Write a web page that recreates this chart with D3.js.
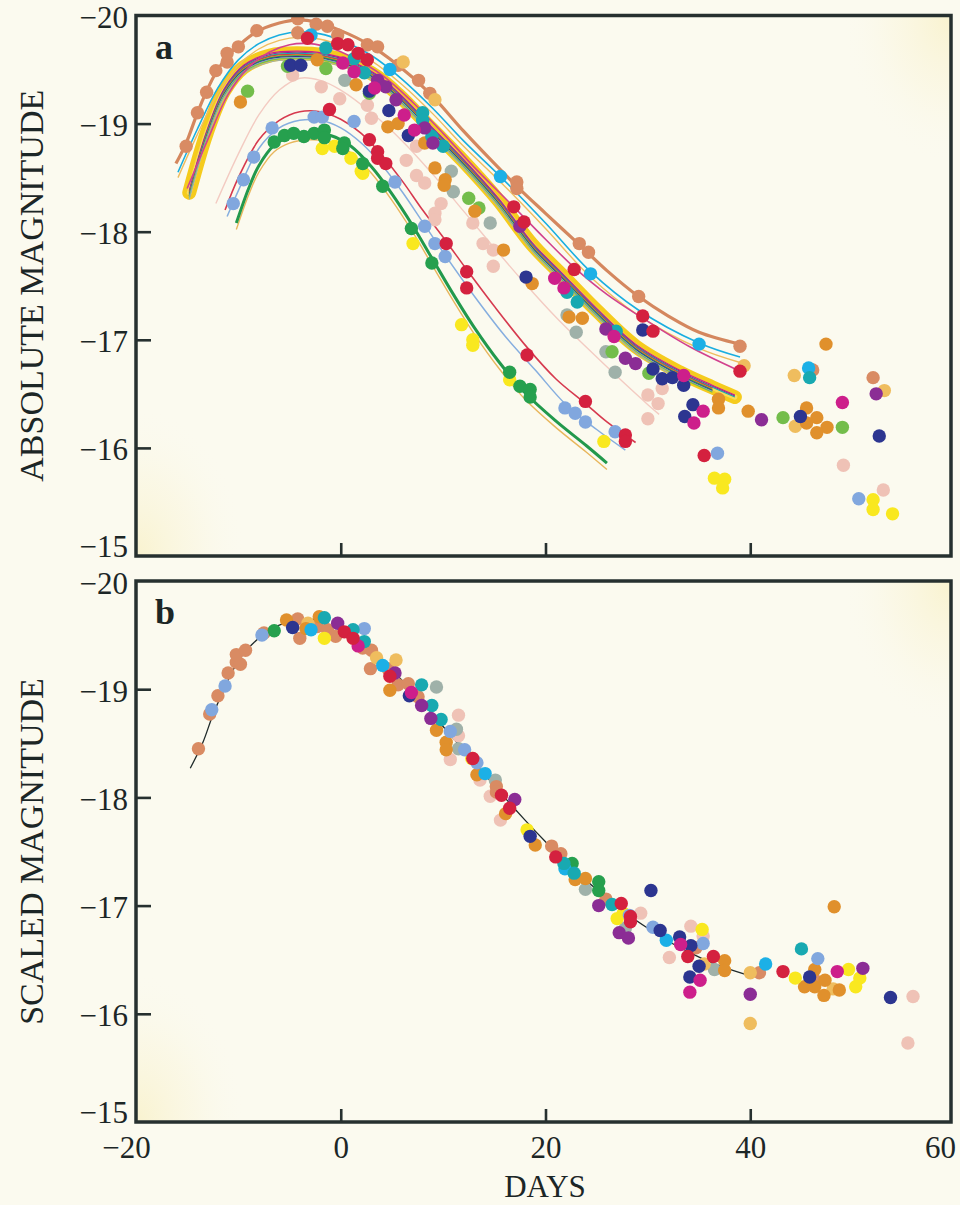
<!DOCTYPE html>
<html>
<head>
<meta charset="utf-8">
<script src="https://cdn.jsdelivr.net/npm/d3@7"></script>
<style>
    body { margin: 0; background: #fbfaef; }
    svg { display: block; }
    text { font-family: "Liberation Serif", "Times New Roman", serif; fill: #1c2626; }
</style>
</head>
<body>
<svg id="chart" width="960" height="1205"></svg>
<script>
/* global d3 */

// ---- axis ticks ----
const magTicks = [-20, -19, -18, -17, -16, -15];
const dayTicks = [-20, 0, 20, 40, 60];

// ---- template light curve (panel b, black line) [day, mag] ----
const templateCurve = [
    [-14.7, -18.27], [-13.5, -18.50], [-12.5, -18.76], [-11.5, -18.98], [-10.5, -19.18],
    [-9.5, -19.33], [-8.5, -19.43], [-7.5, -19.51], [-6.5, -19.57], [-5.5, -19.61],
    [-4.5, -19.64], [-3.5, -19.65], [-2.5, -19.64], [-1.5, -19.61], [-0.5, -19.57],
    [0.5, -19.52], [1.5, -19.46], [2.5, -19.39], [3.5, -19.31], [4.5, -19.22],
    [5.5, -19.13], [6.5, -19.03], [7.5, -18.93], [8.5, -18.82], [9.5, -18.71],
    [10.5, -18.60], [11.5, -18.49], [12.5, -18.38], [14, -18.22], [16, -18.00],
    [18, -17.79], [20, -17.59], [22, -17.40], [24, -17.23], [26, -17.07],
    [28, -16.92], [30, -16.79], [32, -16.67], [34, -16.57], [36, -16.48],
    [38, -16.41], [40, -16.35]
];

// ---- panel a fitted curves [day, mag] ----
const curveBrown = [
    [-16.1, -18.63], [-15.1, -18.82], [-14.0, -19.10], [-13.1, -19.30], [-12.2, -19.47],
    [-11.0, -19.63], [-10.0, -19.72], [-8.2, -19.85], [-6.0, -19.93], [-4.2, -19.96],
    [-2.4, -19.94], [0.0, -19.86], [2.6, -19.74], [5.6, -19.54], [8.7, -19.28],
    [12.0, -18.93], [14.5, -18.68], [17.2, -18.42], [20.0, -18.17], [23.3, -17.88],
    [26.0, -17.64], [29.1, -17.40], [32.0, -17.22], [35.0, -17.07], [39.0, -16.96]
];
const curveCyan = [
    [-15.9, -18.55], [-14.0, -18.95], [-12.0, -19.33], [-10.0, -19.59], [-8.0, -19.74],
    [-6.0, -19.82], [-4.0, -19.85], [-2.0, -19.83], [0.0, -19.77], [3.0, -19.63],
    [6.0, -19.41], [9.0, -19.14], [12.0, -18.84], [15.6, -18.51], [20.0, -18.08],
    [24.4, -17.63], [29.0, -17.28], [35.0, -16.97], [39.0, -16.84]
];
const curveMagenta = [
    [-15.0, -18.40], [-13.0, -18.85], [-11.0, -19.27], [-9.0, -19.52], [-7.0, -19.66],
    [-5.0, -19.73], [-3.0, -19.74], [-1.0, -19.70], [1.0, -19.62], [4.0, -19.45],
    [7.0, -19.20], [10.0, -18.91], [13.0, -18.60], [16.9, -18.23], [20.0, -17.93],
    [22.8, -17.67], [26.0, -17.42], [29.5, -17.20], [34.0, -16.94], [39.0, -16.71]
];
const curveBand = [
    [-14.8, -18.36], [-13.1, -18.91], [-11.4, -19.30], [-9.5, -19.52], [-6.9, -19.63],
    [-4.2, -19.65], [-1.6, -19.63], [1.0, -19.56], [3.6, -19.43], [5.6, -19.27],
    [8.9, -18.95], [12.1, -18.64], [15.4, -18.29], [18.7, -17.88], [21.6, -17.60],
    [24.9, -17.28], [28.8, -16.94], [33.1, -16.70], [36.3, -16.56], [38.5, -16.47]
];
const curvePink = [
    [-12.2, -18.26], [-10.0, -18.72], [-8.0, -19.08], [-6.0, -19.31], [-4.0, -19.42],
    [-2.0, -19.40], [0.0, -19.31], [3.0, -19.10], [6.0, -18.84], [9.0, -18.53],
    [12.0, -18.19], [15.0, -17.85], [18.0, -17.52], [21.0, -17.21], [24.0, -16.93],
    [27.0, -16.66], [30.0, -16.40], [31.1, -16.31]
];
const curveRed = [
    [-11.3, -18.20], [-10.0, -18.50], [-8.0, -18.85], [-6.0, -19.03], [-4.0, -19.11],
    [-2.0, -19.11], [0.0, -19.04], [2.0, -18.91], [4.0, -18.71], [6.0, -18.47],
    [8.0, -18.20], [10.3, -17.91], [12.3, -17.65], [15.0, -17.31], [18.2, -16.93],
    [21.0, -16.64], [23.9, -16.41], [26.0, -16.24], [28.8, -16.05]
];
const curveBlue = [
    [-11.1, -18.14], [-10.0, -18.38], [-8.0, -18.77], [-6.0, -18.96], [-4.0, -19.03],
    [-2.0, -19.03], [0.0, -18.96], [2.0, -18.82], [4.0, -18.62], [6.0, -18.37],
    [8.0, -18.09], [10.0, -17.81], [13.0, -17.41], [16.0, -17.04], [19.0, -16.72],
    [22.0, -16.40], [25.0, -16.17], [27.8, -15.98]
];
const curveGreen = [
    [-10.2, -18.08], [-9.0, -18.40], [-8.0, -18.61], [-6.5, -18.80], [-5.0, -18.88],
    [-3.0, -18.91], [-1.0, -18.89], [1.0, -18.79], [3.0, -18.60], [5.0, -18.35],
    [7.0, -18.06], [9.0, -17.74], [11.0, -17.42], [13.0, -17.12], [15.5, -16.79],
    [18.0, -16.51], [21.0, -16.25], [24.0, -16.02], [26.0, -15.86]
];

// thin fits that sit inside the yellow band: [sn, mag offset from band, first index, last index]
const bandThreads = [
    ["magenta", -0.02, 0, 19], ["purple", -0.01, 0, 19], ["teal", 0.0, 0, 19],
    ["crimson", 0.008, 0, 18], ["orange", 0.015, 0, 18], ["green", 0.022, 0, 18],
    ["navy", 0.03, 0, 18], ["lightBlue", 0.038, 0, 18], ["lightGreen", 0.045, 0, 18],
    ["gray", 0.06, 0, 17]
];
// fits running alongside another one: [sn, base curve, mag offset]
const twinCurves = [["tan", "green", 0.06], ["lightOrange", "cyan", 0.05]];

// ---- panel a measurements [day, mag] ----
const aBrown = [[-15.1, -18.79], [-14.0, -19.10], [-13.1, -19.29], [-12.2, -19.49], [-11.1, -19.57], [-11.1, -19.65], [-10.0, -19.71], [-8.2, -19.86], [-4.2, -19.97], [-4.2, -19.84], [-2.4, -19.92], [-1.3, -19.90], [-0.3, -19.82], [2.6, -19.73], [3.6, -19.71], [5.6, -19.54], [7.6, -19.40], [8.7, -19.28], [17.2, -18.46], [17.2, -18.40], [23.3, -17.89], [24.2, -17.81], [29.1, -17.40], [39.0, -16.94], [46.1, -16.72], [52.0, -16.65]];
const aLightOrange = [[6.1, -19.57], [9.2, -19.22], [39.4, -16.76], [44.3, -16.67], [53.1, -16.53], [44.4, -16.20]];
const aCyan = [[-2.9, -19.82], [4.8, -19.50], [15.6, -18.51], [24.4, -17.61], [35.0, -16.96], [45.7, -16.74]];
const aTeal = [[-1.45, -19.70], [1.3, -19.60], [2.3, -19.47], [8.0, -19.10], [8.0, -19.03], [8.9, -18.88], [10.0, -18.79], [22.1, -17.44], [23.1, -17.35], [26.9, -17.08], [45.8, -16.65]];
const aCrimson = [[-3.25, -19.79], [-0.3, -19.74], [0.7, -19.73], [1.7, -19.65], [2.6, -19.59], [-1.1, -19.13], [2.8, -18.85], [3.6, -18.74], [3.6, -18.68], [4.4, -18.63], [10.3, -17.89], [12.3, -17.63], [12.3, -17.48], [18.2, -16.86], [23.9, -16.43], [27.8, -16.12], [27.8, -16.06], [16.9, -18.23], [17.9, -18.09], [22.8, -17.65], [29.5, -17.22], [30.5, -17.08], [39.0, -16.71], [35.5, -15.93]];
const aMagenta = [[0.2, -19.56], [1.3, -19.48], [3.3, -19.33], [6.2, -19.08], [7.2, -18.94], [20.9, -17.57], [21.8, -17.48], [26.7, -17.03], [33.5, -16.67], [35.4, -16.34], [34.5, -16.23], [49.0, -16.42]];
const aPurple = [[3.6, -19.40], [4.4, -19.34], [5.4, -19.22], [8.2, -18.96], [9.0, -18.82], [17.5, -18.05], [25.9, -17.10], [27.8, -16.83], [28.8, -16.78], [41.1, -16.26], [52.3, -16.50]];
const aNavy = [[-4.9, -19.54], [-3.9, -19.54], [2.8, -19.30], [4.7, -19.12], [6.6, -18.89], [18.1, -17.58], [29.5, -17.09], [30.5, -16.73], [31.4, -16.64], [32.4, -16.65], [33.5, -16.58], [34.4, -16.40], [33.6, -16.29], [44.9, -16.29], [52.6, -16.11]];
const aOrange = [[-9.8, -19.20], [-2.3, -19.59], [1.5, -19.36], [4.6, -18.97], [5.6, -19.00], [8.2, -18.82], [9.2, -18.59], [10.2, -18.48], [10.1, -18.43], [13.1, -18.19], [15.9, -17.83], [18.7, -17.52], [22.3, -17.21], [23.6, -17.20], [36.9, -16.45], [36.9, -16.37], [39.8, -16.34], [45.5, -16.37], [46.5, -16.28], [45.5, -16.23], [47.5, -16.19], [46.5, -16.14], [47.4, -16.96]];
const aGray = [[0.4, -19.40], [10.8, -18.56], [11.0, -18.37], [14.6, -18.08], [22.1, -17.23], [23.0, -17.07], [25.9, -16.89], [26.8, -16.70]];
const aLightGreen = [[-9.1, -19.30], [-5.2, -19.53], [-1.45, -19.51], [2.8, -19.28], [12.5, -18.31], [13.5, -18.22], [26.5, -16.89], [30.1, -16.69], [43.2, -16.28], [49.0, -16.19]];
const aGreen = [[-6.5, -18.83], [-5.5, -18.89], [-4.6, -18.91], [-3.6, -18.88], [-2.6, -18.91], [-1.6, -18.94], [-1.6, -18.87], [0.35, -18.82], [0.2, -18.77], [2.15, -18.63], [4.1, -18.42], [6.9, -18.03], [8.9, -17.71], [16.5, -16.70], [17.5, -16.57], [18.5, -16.54], [18.5, -16.47]];
const aYellow = [[-1.8, -18.77], [-0.6, -18.79], [1.0, -18.68], [2.0, -18.56], [2.15, -18.54], [7.06, -17.89], [11.8, -17.14], [12.9, -17.00], [12.9, -16.95], [16.5, -16.63], [25.7, -16.06], [36.5, -15.72], [37.5, -15.71], [37.3, -15.63], [52.0, -15.52], [52.0, -15.43], [53.9, -15.39]];
const aLightBlue = [[-10.5, -18.26], [-9.5, -18.48], [-8.5, -18.69], [-6.7, -18.96], [-2.6, -19.06], [-1.8, -19.06], [1.3, -19.02], [5.3, -18.46], [8.2, -18.05], [9.2, -17.89], [10.2, -17.77], [21.9, -16.37], [22.9, -16.32], [23.9, -16.24], [26.8, -16.15], [36.8, -15.95], [50.6, -15.53]];
const aLightPink = [[-4.7, -19.45], [-1.9, -19.34], [-0.1, -19.23], [2.6, -19.17], [3.0, -19.05], [6.4, -18.66], [7.4, -18.79], [7.4, -18.52], [8.2, -18.45], [9.8, -18.26], [9.2, -18.17], [9.2, -18.11], [12.9, -18.08], [13.9, -17.89], [14.9, -17.83], [14.9, -17.68], [30.0, -16.49], [30.0, -16.27], [31.0, -16.41], [31.4, -16.55], [49.1, -15.84], [53.0, -15.61]];

// ---- panel b measurements (stretch-corrected) [day, mag] ----
const bBrown = [[-13.9, -18.45], [-12.8, -18.77], [-12.0, -18.94], [-11.0, -19.15], [-10.2, -19.25], [-9.8, -19.23], [-10.2, -19.32], [-9.3, -19.36], [-7.5, -19.52], [-4.2, -19.65], [-4.0, -19.47], [-2.3, -19.58], [-1.3, -19.55], [-0.5, -19.49], [2.15, -19.38], [3.0, -19.36], [2.9, -19.19], [4.6, -19.19], [5.6, -19.04], [6.6, -19.05], [7.55, -18.93], [15.2, -18.10], [15.2, -18.05], [20.6, -17.55], [21.5, -17.48], [25.9, -17.06], [34.7, -16.61], [40.9, -16.38], [46.3, -16.31]];
const bLightBlue = [[-12.6, -18.81], [-11.3, -19.03], [-7.7, -19.50], [2.3, -19.56], [10.7, -18.61], [12.1, -18.44], [13.3, -18.32], [28.2, -16.91], [30.5, -16.80], [35.4, -16.65], [46.6, -16.51]];
const bGreen = [[-6.5, -19.54], [22.6, -17.39], [25.2, -17.22], [25.2, -17.14]];
const bOrange = [[-5.3, -19.64], [-3.4, -19.56], [-2.1, -19.67], [4.8, -18.99], [9.35, -18.62], [10.3, -18.51], [10.3, -18.44], [13.3, -18.21], [16.1, -17.85], [19.0, -17.56], [22.9, -17.24], [23.9, -17.25], [37.5, -16.49], [37.5, -16.40], [46.3, -16.41], [45.3, -16.25], [46.3, -16.25], [47.3, -16.31], [47.2, -16.17], [48.2, -16.99], [48.7, -16.22]];
const bNavy = [[-4.7, -19.57], [6.7, -18.94], [18.5, -17.64], [30.3, -17.14], [31.2, -16.77], [33.1, -16.71], [34.2, -16.63], [35.0, -16.44], [34.1, -16.34], [45.8, -16.34], [53.7, -16.15]];
const bLightOrange = [[-3.2, -19.61], [3.5, -19.29], [5.4, -19.27], [35.5, -16.46], [40.0, -16.38], [48.1, -16.23], [40.0, -15.91]];
const bCyan = [[-2.9, -19.55], [4.1, -19.22], [14.1, -18.22], [21.9, -17.34], [31.8, -16.68], [41.5, -16.46]];
const bTeal = [[-1.6, -19.66], [1.2, -19.55], [2.3, -19.44], [7.9, -19.04], [8.9, -18.85], [9.8, -18.72], [21.8, -17.39], [22.8, -17.30], [26.5, -17.01], [45.0, -16.60]];
const bYellow = [[-1.6, -19.47], [12.8, -18.36], [18.2, -17.70], [27.6, -16.93], [27.0, -16.88], [35.3, -16.78], [44.4, -16.33], [49.6, -16.41], [50.7, -16.33], [50.3, -16.25]];
const bPurple = [[-0.3, -19.61], [5.3, -19.15], [7.9, -18.85], [8.8, -18.73], [17.0, -17.98], [25.2, -17.00], [27.2, -16.75], [28.1, -16.70], [40.0, -16.18], [51.0, -16.42]];
const bCrimson = [[0.35, -19.53], [1.2, -19.47], [4.8, -19.12], [12.9, -18.36], [15.7, -18.02], [16.5, -17.90], [21.0, -17.45], [27.4, -17.02], [28.3, -16.90], [28.3, -16.85], [33.9, -16.53], [36.4, -16.53], [43.2, -16.39]];
const bMagenta = [[1.7, -19.40], [6.9, -18.97], [33.2, -16.64], [35.1, -16.31], [34.1, -16.20], [48.5, -16.39]];
const bGray = [[9.35, -19.02], [11.3, -18.63], [11.5, -18.45], [15.1, -18.16], [23.9, -17.15], [27.8, -16.79], [36.5, -16.41]];
const bLightPink = [[11.5, -18.76], [11.5, -18.57], [10.7, -18.35], [13.6, -18.16], [14.6, -18.01], [15.6, -17.79], [29.3, -16.93], [34.2, -16.81], [35.4, -16.72], [32.1, -16.52], [55.9, -16.16], [55.4, -15.73]];

const seriesA = [
    ["lightPink", aLightPink], ["gray", aGray], ["lightGreen", aLightGreen], ["brown", aBrown],
    ["lightOrange", aLightOrange], ["orange", aOrange], ["yellow", aYellow], ["green", aGreen],
    ["lightBlue", aLightBlue], ["cyan", aCyan], ["teal", aTeal], ["navy", aNavy],
    ["purple", aPurple], ["magenta", aMagenta], ["crimson", aCrimson]
];
const seriesB = [
    ["lightPink", bLightPink], ["gray", bGray], ["brown", bBrown], ["lightOrange", bLightOrange],
    ["orange", bOrange], ["yellow", bYellow], ["green", bGreen], ["lightBlue", bLightBlue],
    ["cyan", bCyan], ["teal", bTeal], ["navy", bNavy], ["purple", bPurple],
    ["magenta", bMagenta], ["crimson", bCrimson]
];


// ---- styles ----
const palette = {
    brown: "#d98b63", orange: "#e0902c", lightOrange: "#efbd5e", yellow: "#f9e81f",
    green: "#26a04e", lightGreen: "#73bd4b", teal: "#18a9b1", cyan: "#1cb0e6",
    lightBlue: "#81a7de", navy: "#2c3590", purple: "#8b2d95", magenta: "#cd1f8b",
    crimson: "#d4213f", lightPink: "#efc2b6", gray: "#9fb1a9", tan: "#e8b65c"
};
const ink = "#26302f";
const dotRadius = 6.7;

const svg = d3.select("#chart");

const plotLeft = 136;
const plotRight = 951;
const x = d3.scaleLinear().domain([-20, 60]).range([136, 955]);

const panels = [
    {key: "a", title: "ABSOLUTE MAGNITUDE", series: seriesA,
        y: d3.scaleLinear().domain([-20, -15]).range([15.5, 556])},
    {key: "b", title: "SCALED MAGNITUDE", series: seriesB,
        y: d3.scaleLinear().domain([-20, -15]).range([581, 1122])}
];

const defs = svg.append("defs");
const glow = defs.append("radialGradient").attr("id", "glow");
glow.append("stop").attr("offset", "0%").attr("stop-color", "#f8f0c4").attr("stop-opacity", 0.75);
glow.append("stop").attr("offset", "55%").attr("stop-color", "#faf4d6").attr("stop-opacity", 0.35);
glow.append("stop").attr("offset", "100%").attr("stop-color", "#fbfaef").attr("stop-opacity", 0);

const make_line = y => d3.line()
    .x(d => x(d[0]))
    .y(d => y(d[1]))
    .curve(d3.curveCatmullRom.alpha(0.5));

const shifted = (points, dm) => points.map(d => [d[0], d[1] + dm]);

const draw_panel = function (panel) {
    const y = panel.y;
    const top = y(-20);
    const bottom = y(-15);
    const line = make_line(y);
    const g = svg.append("g").attr("class", "Panel");

    defs.append("clipPath").attr("id", "clip-" + panel.key)
        .append("rect")
        .attr("x", plotLeft).attr("y", top)
        .attr("width", plotRight - plotLeft).attr("height", bottom - top);

    const body = g.append("g").attr("clip-path", `url(#clip-${panel.key})`);

    // soft yellow corners of the printed page
    body.append("ellipse").attr("cx", plotRight).attr("cy", top).attr("rx", 110).attr("ry", 150)
        .attr("fill", "url(#glow)");
    body.append("ellipse").attr("cx", plotLeft).attr("cy", bottom).attr("rx", 110).attr("ry", 150)
        .attr("fill", "url(#glow)");

    if (panel.key === "a") {
        // wide band for the cluster of near-identical fits
        body.append("path").attr("d", line(curveBand))
            .attr("fill", "none").attr("stroke", "#f5cb1d")
            .attr("stroke-width", 14).attr("stroke-linecap", "round");
        body.append("path").attr("d", line(curveBand))
            .attr("fill", "none").attr("stroke", "#f8dc5c")
            .attr("stroke-width", 5).attr("stroke-linecap", "round");

        bandThreads.forEach(([sn, dm, i0, i1]) => {
            body.append("path")
                .attr("d", line(shifted(curveBand.slice(i0, i1 + 1), dm)))
                .attr("fill", "none").attr("stroke", palette[sn])
                .attr("stroke-width", 1.1);
        });

        const fits = [
            [curvePink, "#f3cbc2", 1.4],
            [curveGreen, "#22994c", 3],
            [curveBlue, "#86aedf", 1.5],
            [curveRed, "#d63a4f", 1.6],
            [curveMagenta, "#d2428e", 1.6],
            [curveCyan, "#1aaee0", 1.6],
            [curveBrown, "#d4875e", 3.2]
        ];
        const bases = {green: curveGreen, cyan: curveCyan};
        twinCurves.forEach(([sn, base, dm]) => {
            body.append("path").attr("d", line(shifted(bases[base], dm)))
                .attr("fill", "none").attr("stroke", palette[sn]).attr("stroke-width", 1.4);
        });
        fits.forEach(([pts, color, w]) => {
            body.append("path").attr("d", line(pts))
                .attr("fill", "none").attr("stroke", color).attr("stroke-width", w);
        });
    } else {
        body.append("path").attr("d", line(templateCurve))
            .attr("fill", "none").attr("stroke", "#1f2a2a").attr("stroke-width", 1.3);
    }

    // measurements
    panel.series.forEach(([sn, pts]) => {
        body.append("g").selectAll("circle")
            .data(pts)
            .join("circle")
            .attr("cx", d => x(d[0]))
            .attr("cy", d => y(d[1]))
            .attr("r", dotRadius)
            .attr("fill", palette[sn]);
    });

    // frame
    g.append("rect")
        .attr("x", plotLeft).attr("y", top)
        .attr("width", plotRight - plotLeft).attr("height", bottom - top)
        .attr("fill", "none").attr("stroke", ink).attr("stroke-width", 3.5);

    // inward ticks
    g.append("g").attr("transform", `translate(${plotLeft},0)`)
        .call(d3.axisRight(y).tickValues(magTicks.slice(1, -1)).tickSize(15).tickFormat(""))
        .call(a => a.select(".domain").remove())
        .selectAll("line").attr("stroke", ink).attr("stroke-width", 2.6);
    g.append("g").attr("transform", `translate(0,${bottom})`)
        .call(d3.axisTop(x).tickValues(dayTicks.slice(1, -1)).tickSize(13).tickFormat(""))
        .call(a => a.select(".domain").remove())
        .selectAll("line").attr("stroke", ink).attr("stroke-width", 2.6);

    // magnitude labels; the end labels are pulled inward as in print
    const nudge = d => (d === -15 ? -9 : (d === -20 && panel.key === "b") ? 3 : 2);
    g.append("g").attr("transform", `translate(${plotLeft},0)`)
        .call(d3.axisLeft(y).tickValues(magTicks).tickSize(0).tickPadding(8).tickFormat(d3.format("d")))
        .call(a => a.select(".domain").remove())
        .selectAll("text")
        .attr("y", nudge)
        .attr("font-family", "Liberation Serif, serif")
        .attr("font-size", 31)
        .attr("fill", "#1c2626");

    g.append("text")
        .attr("transform", `translate(31,${(top + bottom) / 2}) rotate(-90)`)
        .attr("text-anchor", "middle")
        .attr("dy", "0.35em")
        .attr("font-size", 34)
        .text(panel.title);

    g.append("text")
        .attr("x", 155).attr("y", top + 43)
        .attr("font-size", 36)
        .attr("font-weight", "bold")
        .text(panel.key);
};

panels.forEach(draw_panel);

// day labels under the lower panel
const xLabels = svg.append("g").attr("transform", `translate(0,${panels[1].y(-15)})`)
    .call(d3.axisBottom(x).tickValues(dayTicks).tickSize(0).tickPadding(14).tickFormat(d3.format("d")));
xLabels.select(".domain").remove();
xLabels.selectAll("text")
    .attr("font-family", "Liberation Serif, serif")
    .attr("font-size", 31)
    .attr("fill", "#1c2626")
    .attr("dx", d => (d === -20 ? -10 : d === 60 ? -15 : 0));

svg.append("text")
    .attr("x", 545).attr("y", 1197)
    .attr("text-anchor", "middle")
    .attr("font-size", 31)
    .text("DAYS");
</script>
</body>
</html>
